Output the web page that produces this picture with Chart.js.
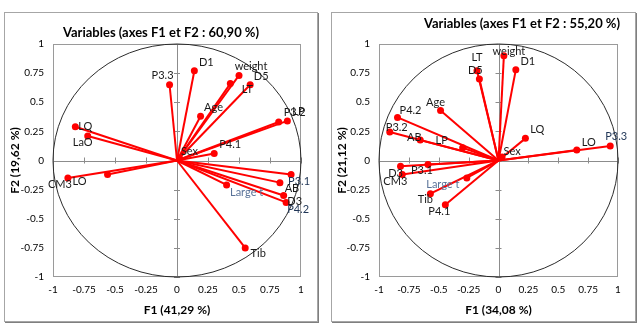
<!DOCTYPE html>
<html>
<head>
<meta charset="utf-8">
<script src="https://cdn.jsdelivr.net/npm/chart.js@4.4.0/dist/chart.umd.min.js"></script>
<style>
body { margin: 0; background: #fff; width: 644px; height: 333px; position: relative; overflow: hidden; }
.panel { position: absolute; top: 12px; height: 308px; border: 1px solid #a6a6a6; box-shadow: 1px 1px 0 #7f7f7f; background: #fff; }
#p1 { left: 4px; width: 312px; }
#p2 { left: 331px; width: 303px; }
canvas { display: block; }
</style>
</head>
<body>
<div class="panel" id="p1"><canvas id="c1" width="312" height="308"></canvas></div>
<div class="panel" id="p2"><canvas id="c2" width="303" height="308"></canvas></div>
<script>
// left chart : F1 x F2, 60,90 %
const leftNames = ['D1', 'P3.3', 'weight', 'LT', 'D5', 'Age', 'P3.2', 'LP', 'LQ', 'LaO', 'P4.1', 'Sex', 'CM3', 'LO', 'P3.1', 'AB', 'Large t', 'D3', 'P4.2', 'Tib']
const leftF1 = [0.14, -0.06, 0.50, 0.43, 0.59, 0.19, 0.82, 0.89, -0.82, -0.72, 0.30, 0.02, -0.88, -0.56, 0.92, 0.83, 0.40, 0.86, 0.88, 0.55]
const leftF2 = [0.77, 0.65, 0.73, 0.66, 0.65, 0.38, 0.33, 0.34, 0.29, 0.21, 0.06, 0.02, -0.15, -0.12, -0.12, -0.19, -0.21, -0.30, -0.36, -0.75]

// right chart : F1 x F2, 55,20 %
const rightNames = ['weight', 'LT', 'D5', 'D1', 'Age', 'P4.2', 'P3.2', 'AB', 'LP', 'LQ', 'LO', 'P3.3', 'Sex', 'D3', 'P3.1', 'CM3', 'Large t', 'Tib', 'P4.1']
const rightF1 = [0.045, -0.18, -0.16, 0.145, -0.485, -0.845, -0.91, -0.655, -0.30, 0.225, 0.655, 0.935, 0.03, -0.82, -0.59, -0.805, -0.265, -0.57, -0.445]
const rightF2 = [0.90, 0.77, 0.70, 0.78, 0.43, 0.37, 0.245, 0.175, 0.11, 0.19, 0.09, 0.125, 0.03, -0.05, -0.035, -0.12, -0.15, -0.285, -0.38]

const tickValues = [-1, -0.75, -0.5, -0.25, 0, 0.25, 0.5, 0.75, 1]

// label placement (pixels from the point), like the labels tool did it
const leftOffsets = {
    'D1': [12, -8], 'P3.3': [-7, -9], 'weight': [12, -9], 'LT': [17, 6], 'D5': [11, -8],
    'Age': [13, -9], 'P3.2': [16, -10], 'LP': [11, -9], 'LQ': [10, 0], 'LaO': [-5, 6],
    'P4.1': [16, -9], 'Sex': [10, -7], 'CM3': [-8, 6], 'LO': [-28, 7], 'P3.1': [8, 7],
    'AB': [12, 6], 'Large t': [20, 7], 'D3': [11, 6], 'P4.2': [12, 7], 'Tib': [13, 6]
}
const rightOffsets = {
    'weight': [5, -4], 'LT': [0, -13], 'D5': [-4, -8], 'D1': [12, -8], 'Age': [-5, -8],
    'P4.2': [13, -7], 'P3.2': [7, -5], 'AB': [-6, -3], 'LP': [-21, -7], 'LQ': [12, -9],
    'LO': [12, -8], 'P3.3': [6, -9], 'Sex': [10, -6], 'D3': [-5, 7], 'P3.1': [-6, 6],
    'CM3': [-7, 7], 'Large t': [-24, 6], 'Tib': [-5, 6], 'P4.1': [-6, 7]
}
const leftColors = { 'Large t': '#5a7399', 'P3.1': '#1f3556', 'P4.2': '#1f3556' }
const rightColors = { 'Large t': '#5a7399', 'P3.3': '#1f3556' }

const circlePlugin = {
    id: 'circle',
    beforeDatasetsDraw(chart) {
        const { ctx, chartArea: a, scales: { x, y } } = chart
        const x0 = x.getPixelForValue(0)
        const y0 = y.getPixelForValue(0)
        ctx.save()
        ctx.lineWidth = 1
        ctx.strokeStyle = '#9a9a9a'
        ctx.strokeRect(a.left + 0.5, a.top + 0.5, a.right - a.left - 1, a.bottom - a.top - 1)
        ctx.strokeStyle = '#8c8c8c'
        ctx.beginPath()
        ctx.moveTo(Math.round(x0) + 0.5, a.top)
        ctx.lineTo(Math.round(x0) + 0.5, a.bottom)
        ctx.moveTo(a.left, Math.round(y0) + 0.5)
        ctx.lineTo(a.right, Math.round(y0) + 0.5)
        tickValues.forEach((v) => {
            const px = Math.round(x.getPixelForValue(v)) + 0.5
            const py = Math.round(y.getPixelForValue(v)) + 0.5
            ctx.moveTo(px, y0 - 3)
            ctx.lineTo(px, y0 + 3)
            ctx.moveTo(x0 - 3, py)
            ctx.lineTo(x0 + 3, py)
        })
        ctx.stroke()
        ctx.strokeStyle = '#2b2b2b'
        ctx.beginPath()
        ctx.ellipse(x0, y0, x.getPixelForValue(1) - x0, y0 - y.getPixelForValue(1), 0, 0, Math.PI * 2)
        ctx.stroke()
        ctx.restore()
    }
}

const labelsPlugin = {
    id: 'varLabels',
    afterDatasetsDraw(chart, args, opts) {
        const { ctx, scales: { x, y } } = chart
        ctx.save()
        ctx.font = '11px Lato'
        ctx.textAlign = 'center'
        ctx.textBaseline = 'middle'
        chart.data.datasets.forEach((ds) => {
            const p = ds.data[1]
            const off = opts.offsets[ds.label] || [10, -8]
            ctx.fillStyle = opts.colors[ds.label] || '#1a1a1a'
            ctx.fillText(ds.label, x.getPixelForValue(p.x) + off[0], y.getPixelForValue(p.y) + off[1])
        })
        ctx.fillStyle = '#000'
        ctx.font = 'bold 13px Lato'
        ctx.fillText(opts.title, opts.titleX, opts.titleY)
        ctx.restore()
    }
}

function makeChart(id, names, f1, f2, opt) {
    const datasets = names.map((name, i) => ({
        label: name,
        data: [{ x: 0, y: 0 }, { x: f1[i], y: f2[i] }],
        showLine: true,
        borderColor: '#ff0000',
        backgroundColor: '#ff0000',
        borderWidth: 2,
        pointRadius: [0, 3.5],
        pointBorderWidth: 0
    }))
    const scaleFont = { family: 'Lato', size: 10 }
    const titleFont = { family: 'Lato', size: 12, weight: 'bold' }
    return new Chart(document.getElementById(id), {
        type: 'scatter',
        data: { datasets: datasets },
        plugins: [circlePlugin, labelsPlugin],
        options: {
            responsive: false,
            animation: false,
            devicePixelRatio: 1,
            layout: { padding: { top: 31, right: opt.padRight, bottom: 0, left: 0 } },
            plugins: {
                legend: { display: false },
                tooltip: { enabled: false },
                varLabels: { offsets: opt.offsets, colors: opt.colors, title: opt.title, titleX: opt.titleX, titleY: opt.titleY }
            },
            scales: {
                x: {
                    min: -1, max: 1,
                    afterBuildTicks: (s) => { s.ticks = tickValues.map((v) => ({ value: v })) },
                    afterFit: (s) => { s.height = 44 },
                    grid: { display: false, drawTicks: false },
                    border: { display: false },
                    ticks: { padding: 7, color: '#000', font: scaleFont, maxRotation: 0, callback: (v) => String(v) },
                    title: { display: true, text: opt.xTitle, color: '#000', font: titleFont, padding: { top: 0, bottom: 4 } }
                },
                y: {
                    min: -1, max: 1,
                    afterBuildTicks: (s) => { s.ticks = tickValues.map((v) => ({ value: v })) },
                    afterFit: (s) => { s.width = opt.yWidth },
                    grid: { display: false, drawTicks: false },
                    border: { display: false },
                    ticks: { padding: 9, color: '#000', font: scaleFont, callback: (v) => String(v) },
                    title: { display: true, text: opt.yTitle, color: '#000', font: titleFont, padding: { top: 3, bottom: 0 } }
                }
            }
        }
    })
}

makeChart('c1', leftNames, leftF1, leftF2, {
    offsets: leftOffsets, colors: leftColors, padRight: 16, yWidth: 48,
    title: 'Variables (axes F1 et F2 : 60,90 %)', titleX: 156, titleY: 20,
    xTitle: 'F1 (41,29 %)', yTitle: 'F2 (19,62 %)'
})
makeChart('c2', rightNames, rightF1, rightF2, {
    offsets: rightOffsets, colors: rightColors, padRight: 17, yWidth: 47,
    title: 'Variables (axes F1 et F2 : 55,20 %)', titleX: 190, titleY: 11,
    xTitle: 'F1 (34,08 %)', yTitle: 'F2 (21,12 %)'
})
</script>
</body>
</html>
